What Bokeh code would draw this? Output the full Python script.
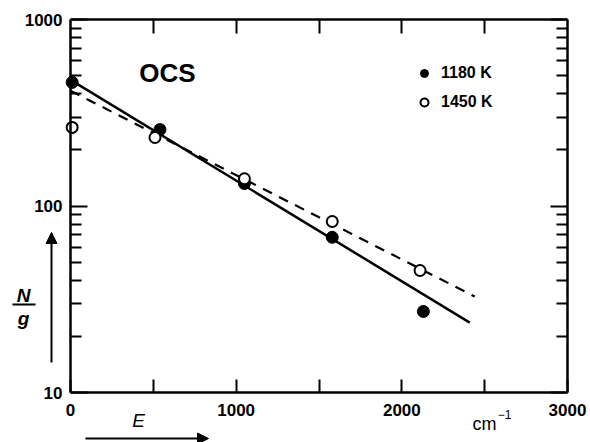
from bokeh.plotting import figure
from bokeh.models import (FixedTicker, LinearAxis, LogAxis, Label, Arrow, NormalHead,
                          Legend, LegendItem, NumeralTickFormatter)
from bokeh.embed import file_html
from bokeh.resources import INLINE

# ---- data ----
x_1180 = [10, 540, 1050, 1580, 2130]
y_1180 = [460, 257, 132, 68, 27.2]
x_1450 = [10, 510, 1050, 1580, 2110]
y_1450 = [264, 233, 140, 82.6, 45.1]
fit_x_1180 = [0, 2410]
fit_y_1180 = [475, 23.7]
fit_x_1450 = [0, 2440]
fit_y_1450 = [415, 32.7]
x_ticks = [0, 1000, 2000, 3000]
x_minor = [500, 1500, 2500]
y_ticks = [10, 100, 1000]
y_minor = [20, 30, 40, 50, 60, 70, 80, 90, 200, 300, 400, 500, 600, 700, 800, 900]
x_bounds = (0, 3000)
y_bounds = (10, 1000)
series_names = ["1180 K", "1450 K"]

FONT = "Liberation Sans"

# The plotting frame covers the whole canvas; the box axes sit at fixed
# locations inside it so that the texts and arrows outside the box are not clipped.
p = figure(width=590, height=442, x_range=(-422.5, 3138.8), y_range=(5.396, 1264.6),
           y_axis_type="log", x_axis_location=None, y_axis_location=None,
           output_backend="svg", toolbar_location=None,
           min_border_left=0, min_border_right=0, min_border_top=0, min_border_bottom=0)
p.title.visible = False
p.xgrid.visible = False
p.ygrid.visible = False
p.outline_line_color = None

def style(ax, tick_major, tick_minor, show_labels=True):
    ax.axis_line_width = 2.5
    ax.axis_line_color = "black"
    ax.major_tick_in = tick_major
    ax.major_tick_out = 0
    ax.minor_tick_in = tick_minor
    ax.minor_tick_out = 0
    ax.major_tick_line_width = 2
    ax.minor_tick_line_width = 2
    ax.major_label_text_font = FONT
    ax.major_label_text_font_style = "bold"
    ax.major_label_text_font_size = "17px"
    ax.major_label_text_color = "black" if show_labels else None

xb = LinearAxis(ticker=FixedTicker(ticks=x_ticks, minor_ticks=x_minor),
                fixed_location=y_bounds[0], bounds=x_bounds)
style(xb, 13, 13)
xb.major_label_standoff = 11
p.add_layout(xb, "below")

yl = LogAxis(ticker=FixedTicker(ticks=y_ticks, minor_ticks=y_minor),
             formatter=NumeralTickFormatter(format="0"),
             fixed_location=x_bounds[0], bounds=y_bounds)
style(yl, 17, 11)
yl.major_label_standoff = 8
p.add_layout(yl, "left")

xt = LinearAxis(ticker=FixedTicker(ticks=[500, 1000, 1500, 2000, 2500], minor_ticks=[]),
                fixed_location=y_bounds[1], bounds=x_bounds)
style(xt, 14, 0, show_labels=False)
p.add_layout(xt, "above")

yr = LogAxis(ticker=FixedTicker(ticks=y_ticks, minor_ticks=y_minor),
             fixed_location=x_bounds[1], bounds=y_bounds)
style(yr, 17, 11, show_labels=False)
p.add_layout(yr, "right")

p.line(fit_x_1180, fit_y_1180, line_color="black", line_width=2.5)
p.line(fit_x_1450, fit_y_1450, line_color="black", line_width=2.2, line_dash="10 8")

r1 = p.scatter(x_1180, y_1180, size=12, marker="circle", fill_color="black", line_color="black")
r2 = p.scatter(x_1450, y_1450, size=11, marker="circle", fill_color="white",
               line_color="black", line_width=2)

legend = Legend(items=[LegendItem(label=series_names[0], renderers=[r1]),
                       LegendItem(label=series_names[1], renderers=[r2])],
                location=(414, 330), orientation="vertical",
                glyph_width=20, glyph_height=20, label_height=20, spacing=9,
                label_standoff=7, padding=0, margin=0,
                border_line_color=None, background_fill_alpha=0,
                label_text_font=FONT, label_text_font_style="bold",
                label_text_font_size="16px", label_text_color="black")
p.add_layout(legend, "center")

def lab(text, x, y, size, style="bold"):
    p.add_layout(Label(x=x, y=y, x_units="screen", y_units="screen", text=text,
                       text_font=FONT, text_font_style=style, text_font_size=size,
                       text_align="center", text_baseline="middle", text_color="black"))

def arrow(x0, y0, x1, y1, head=True):
    end = NormalHead(size=11, fill_color="black", line_color="black") if head else None
    p.add_layout(Arrow(end=end, x_start=x0, y_start=y0, x_end=x1, y_end=y1,
                       start_units="screen", end_units="screen", line_width=2,
                       line_color="black"))

lab("OCS", 167, 370, "26px")
lab("N", 23, 147, "19px", style="bold italic")
lab("g", 23, 124, "19px", style="bold italic")
lab("E", 138, 22, "19px", style="italic")
lab("cm", 484, 19, "18px", style="normal")
lab("\u22121", 504, 28, "12px", style="normal")

arrow(12, 138, 35, 138, head=False)   # fraction bar of N/g
arrow(51, 80, 51, 210)                # upward arrow beside N/g
arrow(85, 4, 208, 4)                  # arrow under E

open("out.html", "w").write(file_html(p, INLINE))
